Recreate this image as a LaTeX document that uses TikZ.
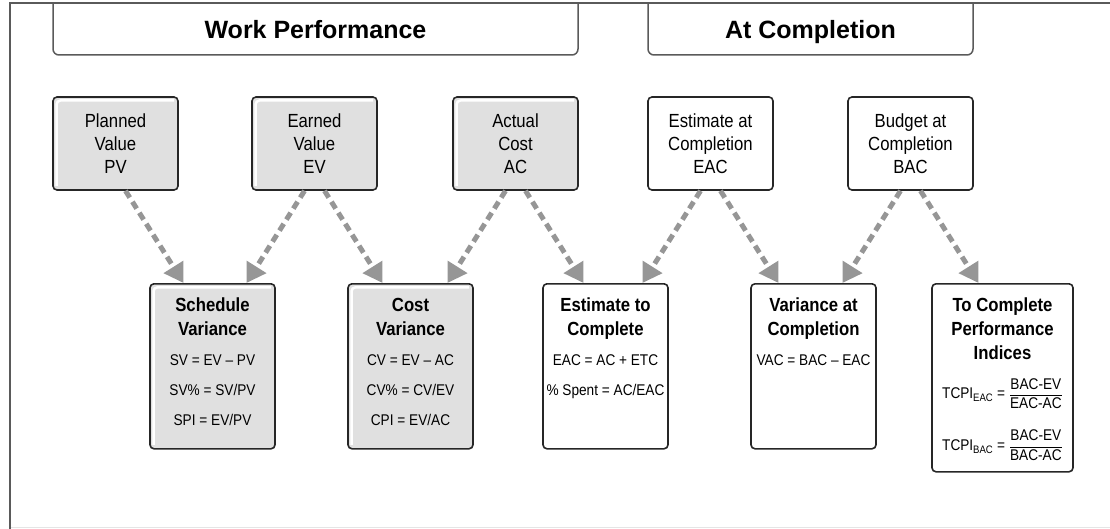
\documentclass[tikz,border=0pt]{standalone}
\usepackage{fontspec}
\usepackage{amsmath}
\setmainfont{Liberation Sans}[FakeStretch=0.88]
\newfontfamily\headfont{Liberation Sans}
\usetikzlibrary{arrows.meta,positioning}

\definecolor{boxgray}{HTML}{E0E0E0}
\definecolor{flowgray}{HTML}{969696}
\definecolor{edgegray}{HTML}{5A5A5A}

\newcommand{\boxtitle}[1]{{\bfseries\fontsize{19}{24}\selectfont #1}}

\tikzset{
  valbox/.style={draw=black!85, line width=1.6pt, rounded corners=4pt,
    minimum width=125pt, minimum height=93pt, inner sep=0pt,
    align=center, font=\fontsize{19}{23}\selectfont},
  calcbox/.style={draw=black!85, line width=1.6pt, rounded corners=4pt,
    minimum width=125pt, minimum height=165pt, inner sep=0pt, anchor=north},
  shaded/.style={fill=boxgray, path picture={
    \draw[white, line width=2.5pt]
      ([shift={(3.5pt,4pt)}]path picture bounding box.south west)
      |- ([shift={(-4pt,-3.5pt)}]path picture bounding box.north east);}},
  calctext/.style={align=center, inner sep=0pt, font=\fontsize{15.5}{24}\selectfont},
  headline/.style={draw=edgegray, line width=1.5pt, rounded corners=6pt},
  headtext/.style={anchor=base, font=\headfont\bfseries\fontsize{25}{30}\selectfont},
  flow/.style={draw=flowgray, line width=5pt, dash pattern=on 8pt off 5pt,
    -{Triangle[length=19pt,width=22pt]}}
}

\begin{document}
\begin{tikzpicture}[x=1pt,y=-1pt]
\useasboundingbox (0,0) rectangle (1110,529);

% frame and headers
\draw[black!10] (10,527.5) -- (1110,527.5);
\draw[edgegray, line width=1.8pt] (10,529) -- (10,3) -- (1110,3);
\draw[headline] (53,3) -- (53,55) -- (578,55) -- (578,3);
\draw[headline] (648,3) -- (648,55) -- (973,55) -- (973,3);
\node[headtext] (wp) at (315.5,38.5) {Work Performance};
\node[headtext] (atc) at (810.5,38.5) {At Completion};

% values
\node[valbox, shaded] (pv) at (115.5,143.5) {Planned\\Value\\PV};
\node[valbox, shaded] (ev) at (314.5,143.5) {Earned\\Value\\EV};
\node[valbox, shaded] (ac) at (515.5,143.5) {Actual\\Cost\\AC};
\node[valbox, fill=white] (eac) at (710.5,143.5) {Estimate at\\Completion\\EAC};
\node[valbox, fill=white] (bac) at (910.5,143.5) {Budget at\\Completion\\BAC};

% calculations
\node[calcbox, shaded] (sv) at (212.5,283) {};
\node[calcbox, shaded] (cv) at (410.5,283) {};
\node[calcbox, fill=white] (etc) at (605.5,283) {};
\node[calcbox, fill=white] (vac) at (813.5,283) {};
\node[calcbox, fill=white, minimum width=141pt, minimum height=188pt] (tcpi) at (1002.5,283) {};

\node[calctext, below=15pt of sv.north] (svtext)
  {\boxtitle{Schedule}\\\boxtitle{Variance}\\[6pt]SV = EV -- PV\\[6pt]SV\% = SV/PV\\[6pt]SPI = EV/PV};
\node[calctext, below=15pt of cv.north] (cvtext)
  {\boxtitle{Cost}\\\boxtitle{Variance}\\[6pt]CV = EV -- AC\\[6pt]CV\% = CV/EV\\[6pt]CPI = EV/AC};
\node[calctext, below=15pt of etc.north] (etctext)
  {\boxtitle{Estimate to}\\\boxtitle{Complete}\\[6pt]EAC = AC + ETC\\[6pt]\% Spent = AC/EAC};
\node[calctext, below=15pt of vac.north] (vactext)
  {\boxtitle{Variance at}\\\boxtitle{Completion}\\[6pt]VAC = BAC -- EAC};
\node[calctext, below=15pt of tcpi.north] (tcpitext)
  {\boxtitle{To Complete}\\\boxtitle{Performance}\\\boxtitle{Indices}\\[15pt]
   TCPI\textsubscript{EAC} = $\dfrac{\text{BAC-EV}}{\text{EAC-AC}}$\\[20pt]
   TCPI\textsubscript{BAC} = $\dfrac{\text{BAC-EV}}{\text{BAC-AC}}$};

% flows
\draw[flow] ([xshift=10pt]pv.south) -- ([xshift=68pt]pv.south |- sv.north);
\draw[flow] ([xshift=-10pt]ev.south) -- ([xshift=-68pt]ev.south |- sv.north);
\draw[flow] ([xshift=10pt]ev.south) -- ([xshift=68pt]ev.south |- cv.north);
\draw[flow] ([xshift=-10pt]ac.south) -- ([xshift=-68pt]ac.south |- cv.north);
\draw[flow] ([xshift=10pt]ac.south) -- ([xshift=68pt]ac.south |- etc.north);
\draw[flow] ([xshift=-10pt]eac.south) -- ([xshift=-68pt]eac.south |- etc.north);
\draw[flow] ([xshift=10pt]eac.south) -- ([xshift=68pt]eac.south |- vac.north);
\draw[flow] ([xshift=-10pt]bac.south) -- ([xshift=-68pt]bac.south |- vac.north);
\draw[flow] ([xshift=10pt]bac.south) -- ([xshift=68pt]bac.south |- tcpi.north);
\end{tikzpicture}
\end{document}
